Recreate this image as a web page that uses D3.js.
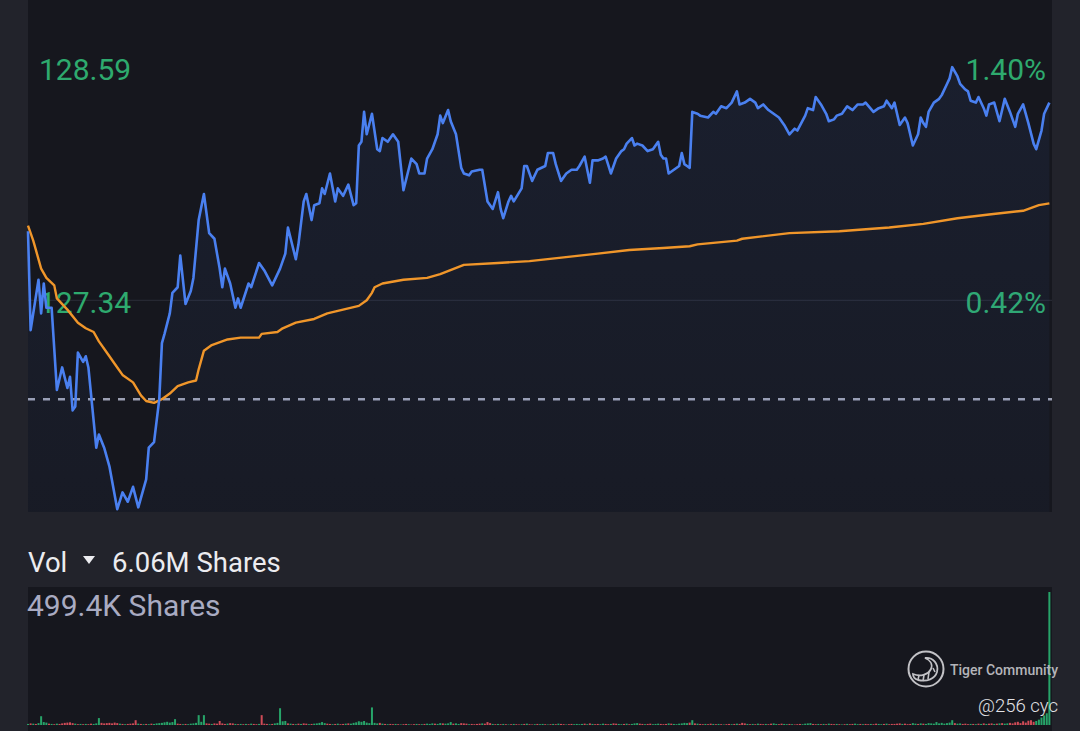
<!DOCTYPE html>
<html>
<head>
<meta charset="utf-8">
<script src="https://cdn.jsdelivr.net/npm/d3@7/dist/d3.min.js"></script>
<style>
  html, body { margin: 0; padding: 0; background: #22232b; overflow: hidden; }
  svg { display: block; font-family: Roboto, "Noto Sans", sans-serif; }
</style>
</head>
<body>
<svg id="chart" width="1080" height="731"></svg>
<script>
// ---- data (minutes after 09:30 open, price) ----
const prevClose = 126.81;
const priceLevels = [128.59, 127.34];
const volTotalLabel = "6.06M";

const lastTrades = [
  [0,127.71],[1,127.18],[4,127.45],[5,127.27],[6,127.43],[7,127.30],[9,127.30],[11,126.86],[13,126.98],[15,126.87],
  [16,126.93],[17,126.75],[18,126.77],[19,127.06],[21,127.01],[22,127.04],[23,126.98],[26,126.55],[27,126.62],[29,126.55],
  [31,126.45],[34,126.22],[36,126.31],[38,126.26],[40,126.34],[42,126.23],[45,126.38],[46,126.55],[48,126.58],[50,126.81],
  [51,127.11],[52,127.16],[54,127.27],[55,127.38],[57,127.41],[58,127.58],[60,127.32],[62,127.39],[63,127.46],[65,127.77],
  [67,127.91],[69,127.70],[71,127.67],[73,127.51],[74,127.41],[75,127.51],[77,127.43],[79,127.30],[80,127.35],[81,127.30],
  [84,127.43],[85,127.41],[88,127.54],[90,127.50],[93,127.42],[96,127.51],[98,127.59],[99,127.73],[102,127.56],[103,127.64],
  [105,127.87],[106,127.91],[108,127.77],[109,127.85],[111,127.86],[112,127.94],[113,127.91],[115,128.02],[117,127.87],[118,127.94],
  [120,127.90],[122,127.96],[124,127.85],[125,127.86],[126,128.17],[127,128.19],[128,128.35],[129,128.23],[131,128.34],[133,128.15],
  [134,128.14],[135,128.21],[137,128.19],[139,128.23],[141,128.19],[143,127.93],[146,128.10],[148,128.07],[149,128.02],[151,128.02],
  [152,128.10],[154,128.15],[156,128.23],[157,128.33],[158,128.29],[160,128.36],[161,128.30],[163,128.23],[165,128.05],[166,128.02],
  [168,128.01],[169,128.03],[172,128.04],[173,128.04],[175,127.87],[177,127.83],[179,127.92],[180,127.83],[181,127.78],[183,127.87],
  [184,127.90],[185,127.87],[188,127.94],[189,128.06],[190,128.06],[192,127.98],[194,128.04],[197,128.06],[198,128.13],[200,128.13],
  [201,128.07],[203,127.98],[205,128.02],[207,128.04],[209,128.04],[210,128.06],[212,128.11],[213,128.04],[214,127.97],[215,128.09],
  [217,128.09],[219,128.10],[220,128.11],[222,128.02],[224,128.10],[226,128.14],[227,128.15],[228,128.18],[230,128.21],[231,128.17],
  [232,128.18],[234,128.17],[236,128.14],[238,128.15],[240,128.19],[241,128.12],[242,128.10],[243,128.10],[244,128.02],[246,128.04],
  [248,128.06],[249,128.13],[250,128.07],[251,128.06],[252,128.05],[253,128.35],[255,128.34],[256,128.33],[259,128.32],[261,128.35],
  [262,128.34],[264,128.38],[266,128.37],[268,128.40],[270,128.46],[271,128.39],[273,128.40],[275,128.42],[277,128.40],[278,128.37],
  [280,128.39],[282,128.36],[284,128.34],[286,128.32],[288,128.28],[290,128.23],[292,128.26],[293,128.25],[296,128.33],[297,128.37],
  [299,128.36],[300,128.43],[302,128.39],[304,128.34],[305,128.30],[307,128.31],[308,128.33],[310,128.34],[312,128.38],[314,128.36],
  [316,128.39],[318,128.39],[319,128.40],[322,128.35],[324,128.37],[326,128.38],[327,128.41],[329,128.37],[330,128.40],[332,128.28],
  [334,128.32],[335,128.29],[337,128.17],[339,128.23],[340,128.32],[341,128.29],[342,128.27],[343,128.35],[345,128.40],[347,128.42],
  [348,128.44],[350,128.50],[351,128.53],[352,128.59],[354,128.54],[355,128.50],[357,128.47],[358,128.46],[359,128.41],[361,128.40],
  [362,128.43],[364,128.37],[365,128.33],[366,128.39],[368,128.40],[370,128.30],[372,128.42],[374,128.35],[376,128.27],[377,128.34],
  [379,128.39],[381,128.29],[383,128.18],[384,128.15],[386,128.25],[387,128.34],[389,128.40]
];

const avgTrades = [
  [0,127.74],[2,127.66],[3,127.61],[5,127.51],[7,127.46],[10,127.42],[11,127.35],[15,127.29],[19,127.22],[22,127.19],
  [25,127.17],[27,127.12],[30,127.06],[34,126.98],[36,126.94],[40,126.90],[43,126.83],[45,126.80],[48,126.79],[51,126.81],
  [54,126.84],[57,126.88],[61,126.90],[64,126.91],[65,126.97],[67,127.07],[70,127.10],[76,127.13],[81,127.14],[88,127.14],
  [89,127.16],[95,127.17],[97,127.19],[102,127.22],[109,127.24],[114,127.27],[120,127.29],[126,127.31],[129,127.34],[131,127.38],
  [132,127.41],[135,127.43],[143,127.45],[152,127.46],[157,127.48],[166,127.53],[179,127.54],[191,127.55],[204,127.57],[217,127.59],
  [229,127.61],[242,127.62],[252,127.63],[255,127.64],[270,127.66],[272,127.67],[290,127.70],[309,127.71],[328,127.73],[341,127.75],
  [354,127.78],[366,127.80],[379,127.82],[385,127.85],[389,127.86]
];

// volume per minute, thousands of shares
const volK = [
  4,6,5,4,7,33,11,9,5,4, 3,5,4,6,8,9,10,7,5,3, 4,3,4,3,5,4,6,26,8,6,
  7,8,6,9,7,5,4,3,4,5, 6,18,5,4,3,4,3,5,4,6, 7,8,10,12,9,11,22,5,4,3,
  4,3,5,6,8,37,12,37,6,5, 4,6,5,15,6,4,5,7,6,4, 3,4,3,4,3,5,4,3,4,37,
  5,4,3,4,6,8,63,14,15,6, 5,4,3,5,4,6,5,3,4,5, 6,8,11,7,5,4,3,4,5,3,
  4,5,6,5,8,10,14,12,15,9, 7,66,8,6,8,5,4,3,4,3, 4,3,2,3,4,3,2,3,4,3,
  3,4,5,4,6,5,4,7,6,5, 6,11,5,6,4,7,6,5,3,4, 3,4,5,6,5,11,7,4,3,4,
  3,4,3,2,3,4,3,2,3,4, 5,3,2,3,4,3,4,3,2,3, 4,3,5,4,3,2,3,4,3,4,
  3,4,5,3,6,4,3,4,3,5, 4,3,4,6,5,4,3,4,5,3, 4,6,7,5,4,3,4,5,3,4,
  5,4,3,4,6,5,4,3,5,6, 8,7,9,18,6,5,4,3,4,3, 5,4,3,4,3,2,3,4,3,4,
  5,4,8,6,4,3,4,3,5,4, 3,4,3,5,6,4,3,5,4,3, 4,3,2,3,4,3,5,6,7,4,
  3,4,3,4,3,5,4,3,4,3, 2,3,4,3,4,5,3,4,3,4, 3,4,3,5,4,3,4,5,3,4,
  4,5,6,4,5,3,4,7,5,4, 6,5,4,7,6,5,11,6,8,5, 7,9,18,7,5,6,4,5,3,4,
  4,3,5,4,6,4,5,6,4,5, 6,7,5,6,8,6,10,12,7,14, 9,16,18,12,15,20,28,36,44,499.4
];
// u = up tick (green), d = down tick (red)
const volSide =
  "ududuuuudu" + "duddddddud" + "ududduuudd" +
  "dddddududd" + "ddudududuu" + "uuuuuuuddu" +
  "duuuuuuudd" + "uddddduddu" + "dudududdud" +
  "dduduuuuud" + "udududdudu" + "uuuuddudud" +
  "duduuuuuuu" + "uuuudududd" + "ududduddud" +
  "uduuuduudu" + "uuduudddud" + "dddudddudu" +
  "dudududdud" + "udduduudud" + "ududdudduu" +
  "uudududduu" + "ddudduudud" + "uuuddudduu" +
  "uddduduuuu" + "uudududdud" + "dudududdud" +
  "udddududud" + "dudduudduu" + "duddduuuud" +
  "dudududdud" + "ududduudud" + "dudduududd" +
  "ddduddduud" + "uduuuuuuuu" + "uuuduudddu" +
  "dudududdud" + "uduudddddd" + "dddduuuuuu";

// ---- layout ----
const plot = { left: 28, right: 1052, top: 0, bottom: 512 };
const volPanel = { top: 587, bottom: 731, base: 725, peak: 592 };

const colors = {
  panel: "#16171e",
  price: "#4a80f0",
  avg: "#f0962a",
  label: "#2eaa6e",
  up: "#27a469",
  down: "#cf4b57",
  grid: "#2b2d37",
  dash: "#9ca0b3"
};

const open = new Date(2024, 0, 2, 9, 30);
const close = new Date(2024, 0, 2, 16, 0);
const t = m => d3.timeMinute.offset(open, m);

const x = d3.scaleTime().domain([open, close]).range([plot.left, plot.right]);
const y = d3.scaleLinear().domain([126.205, 128.95]).range([plot.bottom, plot.top]);
const yVol = d3.scaleLinear().domain([0, d3.max(volK)]).range([volPanel.base, volPanel.peak]);

const svg = d3.select("#chart");

const defs = svg.append("defs");
const grad = defs.append("linearGradient")
  .attr("id", "areaFill")
  .attr("x1", 0).attr("y1", 0).attr("x2", 0).attr("y2", 1);
grad.append("stop").attr("offset", "0%").attr("stop-color", colors.price).attr("stop-opacity", 0.075);
grad.append("stop").attr("offset", "100%").attr("stop-color", colors.price).attr("stop-opacity", 0.035);

// panels
svg.append("rect")
  .attr("x", plot.left).attr("y", plot.top)
  .attr("width", plot.right - plot.left).attr("height", plot.bottom - plot.top)
  .attr("fill", colors.panel);

svg.append("rect")
  .attr("x", plot.left).attr("y", volPanel.top)
  .attr("width", plot.right - plot.left).attr("height", volPanel.bottom - volPanel.top)
  .attr("fill", colors.panel);

// grid line at the lower price level
svg.append("line")
  .attr("x1", plot.left).attr("x2", plot.right)
  .attr("y1", y(priceLevels[1])).attr("y2", y(priceLevels[1]))
  .attr("stroke", colors.grid).attr("stroke-width", 1);

// previous close
svg.append("line")
  .attr("x1", plot.left).attr("x2", plot.right)
  .attr("y1", y(prevClose)).attr("y2", y(prevClose))
  .attr("stroke", colors.dash).attr("stroke-width", 2.5)
  .attr("stroke-dasharray", "7,8");

// price and percent labels
const pct = d3.format(".2f");
svg.selectAll(".lvl")
  .data(priceLevels)
  .enter()
  .append("text")
  .attr("class", "lvl")
  .attr("x", 39)
  .attr("y", d => y(d) + 12.5)
  .attr("fill", colors.label)
  .attr("font-size", 30)
  .text(d => d.toFixed(2));

svg.selectAll(".pct")
  .data(priceLevels)
  .enter()
  .append("text")
  .attr("class", "pct")
  .attr("x", 1046)
  .attr("y", d => y(d) + 12.5)
  .attr("text-anchor", "end")
  .attr("fill", colors.label)
  .attr("font-size", 30)
  .text(d => pct((d / prevClose - 1) * 100) + "%");

// area + lines
const area = d3.area()
  .x(d => x(t(d[0])))
  .y0(plot.bottom)
  .y1(d => y(d[1]));

svg.append("path")
  .datum(lastTrades)
  .attr("d", area)
  .attr("fill", "url(#areaFill)");

const line = d3.line()
  .x(d => x(t(d[0])))
  .y(d => y(d[1]));

svg.append("path")
  .datum(avgTrades)
  .attr("d", line)
  .attr("fill", "none")
  .attr("stroke", colors.avg)
  .attr("stroke-width", 2.4)
  .attr("stroke-linejoin", "round");

svg.append("path")
  .datum(lastTrades)
  .attr("d", line)
  .attr("fill", "none")
  .attr("stroke", colors.price)
  .attr("stroke-width", 2.6)
  .attr("stroke-linejoin", "round");

// volume header
svg.append("text")
  .attr("x", 28).attr("y", 572)
  .attr("fill", "#ececf0").attr("font-size", 27.5)
  .text("Vol");
svg.append("path")
  .attr("d", "M83,556 L95,556 L89,564 Z")
  .attr("fill", "#ececf0");
svg.append("text")
  .attr("x", 112).attr("y", 572)
  .attr("fill", "#ececf0").attr("font-size", 27.5)
  .text(volTotalLabel + " Shares");

// volume bars
svg.selectAll(".vol")
  .data(volK)
  .enter()
  .append("rect")
  .attr("class", "vol")
  .attr("x", (d, i) => x(t(i)) - 1)
  .attr("y", d => yVol(d))
  .attr("width", 2)
  .attr("height", d => volPanel.base - yVol(d))
  .attr("fill", (d, i) => volSide[i] === "u" ? colors.up : colors.down);

svg.append("text")
  .attr("x", 27).attr("y", 616)
  .attr("fill", "#a9abc2").attr("font-size", 30)
  .text(d3.max(volK) + "K Shares");

// watermark
const wm = svg.append("g").attr("transform", "translate(926,669)")
  .attr("fill", "none").attr("stroke", "#c2c2c6");
wm.append("circle").attr("r", 17.5).attr("stroke-width", 2);
wm.append("path")
  .attr("stroke-width", 1.8)
  .attr("d", "M-1,-11 C7,-12 13,-5 11,3 C9,10 1,13 -8,11 C-11,10 -13,8 -13,5 C-6,8 2,6 5,0 C7,-5 4,-9 -1,-11 Z");
wm.append("path")
  .attr("stroke-width", 1.6)
  .attr("d", "M-7,6 L-8,11 M-2,6 L-3,12 M3,3 L2,10 M7,-1 L9,3");

svg.append("text")
  .attr("x", 950).attr("y", 675)
  .attr("fill", "#b4b4b9").attr("font-size", 14).attr("font-weight", 500)
  .text("Tiger Community");
svg.append("text")
  .attr("x", 978).attr("y", 712)
  .attr("fill", "#e2e2e6").attr("font-size", 18.5).attr("font-weight", 300)
  .text("@256 cyc");
</script>
</body>
</html>
